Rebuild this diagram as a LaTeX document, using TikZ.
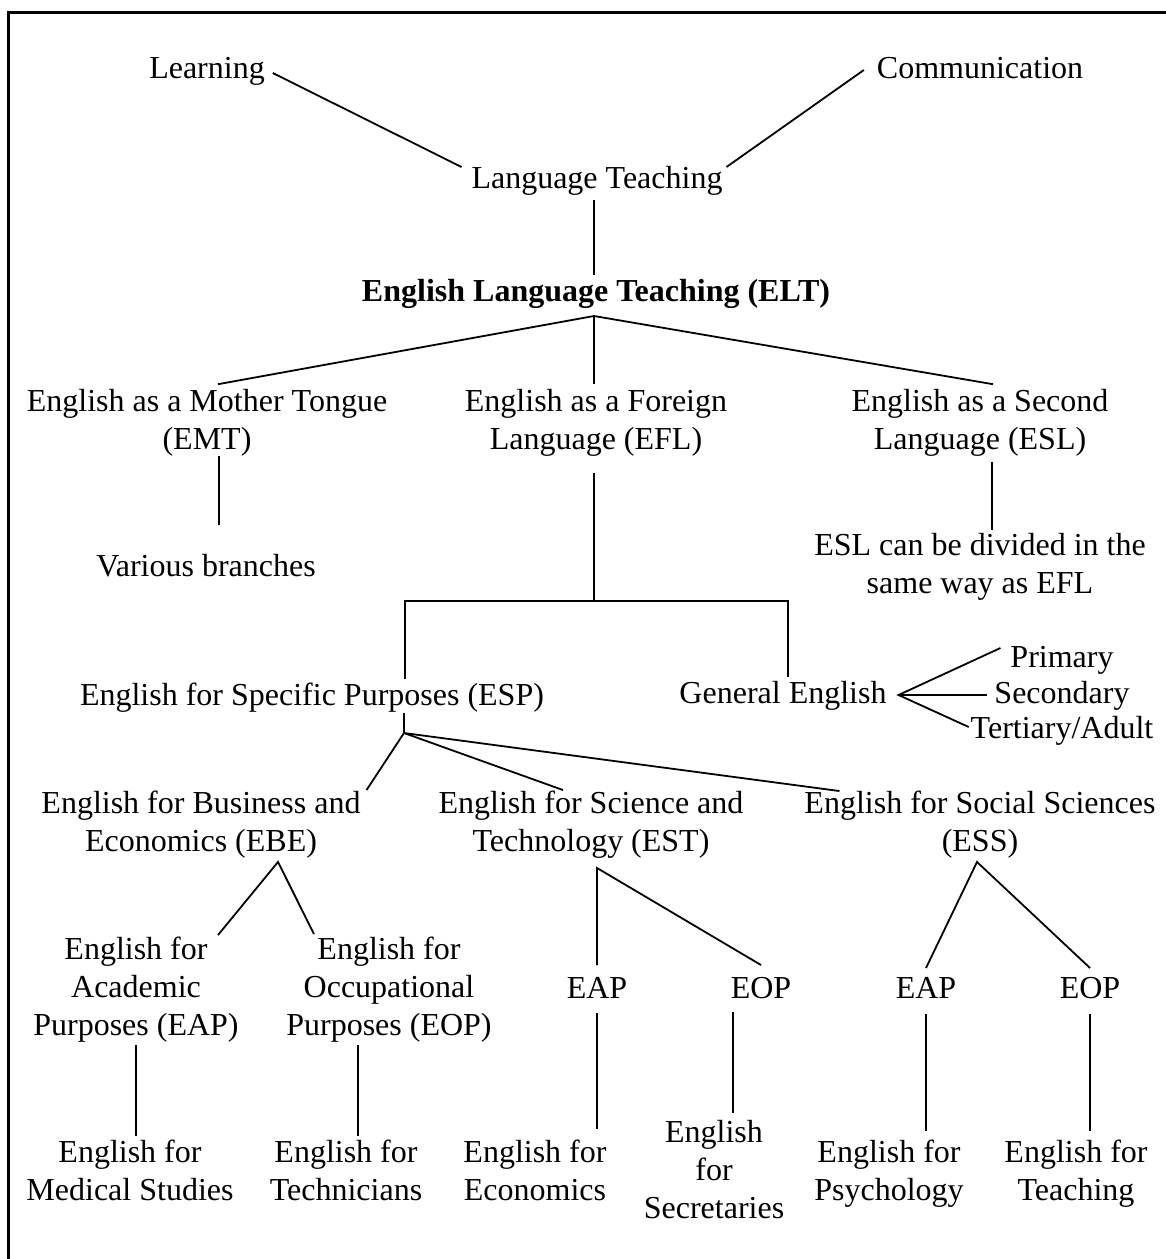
\documentclass[tikz,border=0pt]{standalone}
\usepackage{fontspec}
\setmainfont{Liberation Serif}
\begin{document}
\begin{tikzpicture}[x=1pt,y=-1pt,
  lbl/.style={align=center,inner sep=0pt,outer sep=0pt,
    font=\fontsize{32}{38}\selectfont,
    execute at begin node=\strut,execute at end node=\strut},
  link/.style={line width=1.8pt},
  frame/.style={line width=3pt}]
\useasboundingbox (0,0) rectangle (1166,1259);
% frame (top and left edges)
\draw[frame] (1166,12) -- (8,12) -- (8,1259);

% labels
\node[lbl] (learn) at (207,71) {Learning};
\node[lbl] (comm) at (980,71) {Communication};
\node[lbl] (lt) at (597,181) {Language Teaching};
\node[lbl,font=\fontsize{32}{38}\selectfont\bfseries] (elt) at (596,294) {English Language Teaching (ELT)};
\node[lbl] (emt) at (207,425) {English as a Mother Tongue\\(EMT)};
\node[lbl] (efl) at (596,425) {English as a Foreign\\Language (EFL)};
\node[lbl] (esl) at (980,425) {English as a Second\\Language (ESL)};
\node[lbl] (various) at (206,569) {Various branches};
\node[lbl] (eslnote) at (980,569) {ESL can be divided in the\\same way as EFL};
\node[lbl] (esp) at (312,698) {English for Specific Purposes (ESP)};
\node[lbl] (gen) at (783,696) {General English};
\node[lbl] (prim) at (1062,660) {Primary};
\node[lbl] (sec) at (1062,696) {Secondary};
\node[lbl] (tert) at (1062,731) {Tertiary/Adult};
\node[lbl] (ebe) at (201,827) {English for Business and\\Economics (EBE)};
\node[lbl] (est) at (591,827) {English for Science and\\Technology (EST)};
\node[lbl] (ess) at (980,827) {English for Social Sciences\\(ESS)};
\node[lbl] (eapA) at (136,992) {English for\\Academic\\Purposes (EAP)};
\node[lbl] (eopA) at (389,992) {English for\\Occupational\\Purposes (EOP)};
\node[lbl] (eapB) at (597,991) {EAP};
\node[lbl] (eopB) at (761,991) {EOP};
\node[lbl] (eapC) at (926,991) {EAP};
\node[lbl] (eopC) at (1090,991) {EOP};
\node[lbl] (med) at (130,1176) {English for\\Medical Studies};
\node[lbl] (tech) at (346,1176) {English for\\Technicians};
\node[lbl] (econ) at (535,1176) {English for\\Economics};
\node[lbl] (secr) at (714,1175) {English\\for\\Secretaries};
\node[lbl] (psy) at (889,1176) {English for\\Psychology};
\node[lbl] (teach) at (1076,1176) {English for\\Teaching};

% top of the tree
\draw[link] ([shift={(8,2)}]learn.east) -- ([shift={(-10,-14)}]lt.west);
\draw[link] ([shift={(-13,-1)}]comm.west) -- ([shift={(4,-14)}]lt.east);
\draw[link] ([xshift=-3pt]lt.south) -- ([xshift=-2pt]elt.north);

% ELT branches
\coordinate (eltj) at ([shift={(-2,3)}]elt.south);
\draw[link] ([shift={(11,-5)}]emt.north) -- (eltj) -- ([shift={(13,-5)}]esl.north);
\draw[link] (eltj) -- ([shift={(-2,-5)}]efl.north);
\draw[link] ([shift={(12,-5)}]emt.south) -- ([shift={(13,-25)}]various.north);
\draw[link] ([shift={(12,1)}]esl.south) -- ([shift={(12,-3)}]eslnote.north);

% EFL split into ESP and General English
\coordinate (bar) at ([shift={(-2,140)}]efl.south);
\draw[link] ([shift={(-2,12)}]efl.south) -- (bar);
\draw[link] ([xshift=93pt]esp.north) |- (bar) -| ([xshift=5pt]gen.north);

% General English levels
\coordinate (genj) at ([shift={(12,-1)}]gen.east);
\draw[link] ([shift={(-10,-12)}]prim.west) -- (genj) -- ([shift={(-2,-4)}]tert.west);
\draw[link] (genj) -- ([shift={(-7,-1)}]sec.west);

% ESP branches
\coordinate (espj) at ([shift={(92,16)}]esp.south);
\draw[link] ([shift={(92,-4)}]esp.south) -- (espj);
\draw[link] (espj) -- ([shift={(6,-1)}]ebe.north east);
\draw[link] (espj) -- ([shift={(-28,-1)}]est.north);
\draw[link] (espj) -- ([shift={(35,0)}]ess.north west);

% EBE
\coordinate (ebej) at ([shift={(77,-1)}]ebe.south);
\draw[link] ([shift={(82,-2)}]eapA.north) -- (ebej) -- ([shift={(-75,-3)}]eopA.north);
\draw[link] ([shift={(0,-2)}]eapA.south) -- ([shift={(6,-4)}]med.north);
\draw[link] ([shift={(-31,-2)}]eopA.south) -- ([shift={(12,-4)}]tech.north);

% EST
\coordinate (estj) at ([shift={(6,5)}]est.south);
\draw[link] ([shift={(0,-7)}]eapB.north) -- (estj) -- ([shift={(0,-7)}]eopB.north);
\draw[link] ([shift={(0,3)}]eapB.south) -- ([shift={(62,-11)}]econ.north);
\draw[link] ([shift={(-28,2)}]eopB.south) -- ([shift={(19,-7)}]secr.north);

% ESS
\coordinate (essj) at ([shift={(-3,-1)}]ess.south);
\draw[link] ([shift={(0,-4)}]eapC.north) -- (essj) -- ([shift={(0,-4)}]eopC.north);
\draw[link] ([shift={(0,4)}]eapC.south) -- ([shift={(37,-9)}]psy.north);
\draw[link] ([shift={(0,4)}]eopC.south) -- ([shift={(14,-9)}]teach.north);
\end{tikzpicture}
\end{document}
